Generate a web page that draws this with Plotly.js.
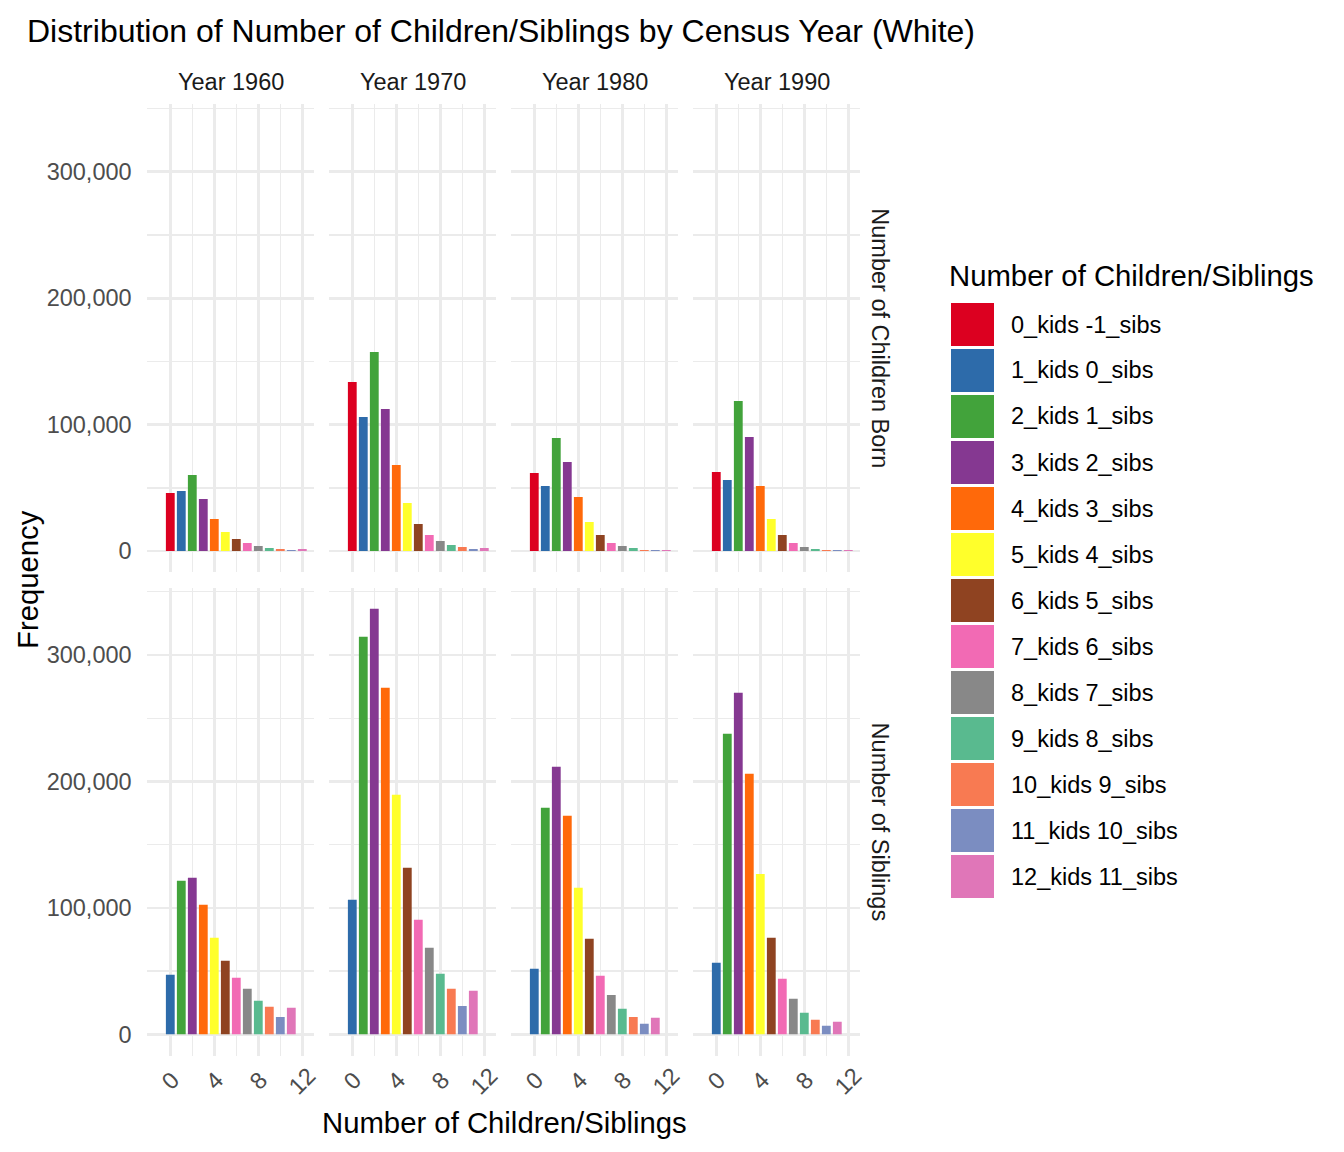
<!DOCTYPE html>
<html>
<head>
<meta charset="utf-8">
<script src="https://cdn.plot.ly/plotly-3.0.1.min.js"></script>
<style>html,body{margin:0;padding:0;background:#fff;}#chart{width:1344px;height:1152px;}</style>
</head>
<body>
<div id="chart"></div>
<script>
// ---------------- data ----------------
const years = ["Year 1960", "Year 1970", "Year 1980", "Year 1990"];
const rowLabels = ["Number of Children Born", "Number of Siblings"];
const categories = ["0_kids -1_sibs", "1_kids 0_sibs", "2_kids 1_sibs", "3_kids 2_sibs", "4_kids 3_sibs",
  "5_kids 4_sibs", "6_kids 5_sibs", "7_kids 6_sibs", "8_kids 7_sibs", "9_kids 8_sibs",
  "10_kids 9_sibs", "11_kids 10_sibs", "12_kids 11_sibs"];
const palette = ["#DC0020", "#2D6BAA", "#42A33B", "#853891", "#FF690A", "#FFFF2B", "#8F4321",
  "#F26AB4", "#888888", "#59BA8F", "#F87A52", "#7B8DC1", "#E076B8"];
const kidsX = [0, 1, 2, 3, 4, 5, 6, 7, 8, 9, 10, 11, 12];
const sibsX = [0, 1, 2, 3, 4, 5, 6, 7, 8, 9, 10, 11];
const xTickVals = [0, 4, 8, 12];
const yTickVals = [0, 100000, 200000, 300000];

const children1960 = [45900, 47500, 60100, 41100, 25300, 15000, 9500, 6300, 4000, 2400, 1600, 800, 1600];
const children1970 = [133700, 106000, 157400, 112300, 68000, 38000, 21400, 12700, 7900, 4700, 3200, 1600, 2400];
const children1980 = [61700, 51400, 89400, 70400, 42700, 22900, 12700, 6300, 4000, 2400, 800, 800, 800];
const children1990 = [62500, 56200, 118600, 90200, 51400, 25300, 12700, 6300, 3200, 1600, 800, 800, 800];
const siblings1960 = [47100, 121400, 123800, 102400, 76300, 58100, 44700, 36000, 26500, 21800, 13800, 21000];
const siblings1970 = [106400, 314400, 336500, 274100, 189400, 131700, 90600, 68400, 47900, 36000, 22500, 34400];
const siblings1980 = [51800, 179200, 211600, 172800, 115900, 75500, 46300, 31200, 20200, 13800, 8300, 13100];
const siblings1990 = [56600, 237700, 270100, 206000, 126900, 76300, 43900, 28100, 17000, 11500, 6700, 9900];

// ---------------- layout helpers ----------------
const W = 1344, H = 1152;
const FONT = "Liberation Sans, Arial, Helvetica, sans-serif";
const px = v => v / W;
const py = v => 1 - v / H;
const colLeft = [147.3, 329.3, 511.3, 693.3];
const colW = 167;
const rowTop = [104.3, 587.6];
const rowH = 468;
const GRID = "#EBEBEB";

const panels = [
  {row: 0, col: 0, x: kidsX, y: children1960, off: 0},
  {row: 0, col: 1, x: kidsX, y: children1970, off: 0},
  {row: 0, col: 2, x: kidsX, y: children1980, off: 0},
  {row: 0, col: 3, x: kidsX, y: children1990, off: 0},
  {row: 1, col: 0, x: sibsX, y: siblings1960, off: 1},
  {row: 1, col: 1, x: sibsX, y: siblings1970, off: 1},
  {row: 1, col: 2, x: sibsX, y: siblings1980, off: 1},
  {row: 1, col: 3, x: sibsX, y: siblings1990, off: 1}
];

const allVals = [].concat(...panels.map(p => p.y));
const yMax = Math.max(...allVals);
const yRange = [-0.05 * yMax, 1.05 * yMax];
const xRange = [-2.09, 13.09];

const traces = [];
const layout = {
  width: W, height: H,
  margin: {l: 0, r: 0, t: 0, b: 0, pad: 0},
  paper_bgcolor: "#fff", plot_bgcolor: "#fff",
  showlegend: false,
  font: {family: FONT, color: "#1A1A1A"},
  title: {
    text: "Distribution of Number of Children/Siblings by Census Year (White)",
    x: px(27), xanchor: "left", xref: "paper",
    y: py(31), yanchor: "middle", yref: "paper",
    font: {family: FONT, size: 32, color: "#000"}
  },
  annotations: [],
  shapes: []
};

panels.forEach((p, i) => {
  const n = i + 1;
  const xid = n === 1 ? "x" : "x" + n;
  const yid = n === 1 ? "y" : "y" + n;
  traces.push({
    type: "bar",
    x: p.x, y: p.y,
    xaxis: xid, yaxis: yid,
    width: 0.8,
    marker: {color: p.x.map(v => palette[v + p.off]), line: {width: 0}},
    hoverinfo: "skip",
    showlegend: false
  });
  const l = colLeft[p.col], t = rowTop[p.row];
  layout["xaxis" + (n === 1 ? "" : n)] = {
    domain: [px(l), px(l + colW)], anchor: yid,
    range: xRange, fixedrange: true,
    tickmode: "array", tickvals: xTickVals,
    showticklabels: false, ticks: "",
    showgrid: true, gridcolor: GRID, gridwidth: 2.7,
    minor: {tickmode: "array", tickvals: [-2, 2, 6, 10], showgrid: true, gridcolor: GRID, gridwidth: 1.4, ticks: ""},
    zeroline: false, showline: false
  };
  layout["yaxis" + (n === 1 ? "" : n)] = {
    domain: [py(t + rowH), py(t)], anchor: xid,
    range: yRange, fixedrange: true,
    tickmode: "array", tickvals: yTickVals, tickformat: ",d",
    showticklabels: p.col === 0,
    ticks: p.col === 0 ? "outside" : "", ticklen: 10, tickcolor: "rgba(0,0,0,0)",
    tickfont: {family: FONT, size: 23.5, color: "#4D4D4D"},
    showgrid: true, gridcolor: GRID, gridwidth: 2.7,
    minor: {tickmode: "array", tickvals: [50000, 150000, 250000, 350000], showgrid: true, gridcolor: GRID, gridwidth: 1.4, ticks: ""},
    zeroline: false, showline: false
  };
  // x tick labels for bottom row (rotated, centred on tick)
  if (p.row === 1) {
    xTickVals.forEach(v => {
      layout.annotations.push({
        xref: xid, yref: "paper", x: v, y: py(1081),
        text: String(v), showarrow: false, textangle: -45,
        xanchor: "center", yanchor: "middle",
        font: {family: FONT, size: 23.5, color: "#4D4D4D"}
      });
    });
  }
});

// strip labels (top)
years.forEach((yr, c) => {
  layout.annotations.push({
    xref: "paper", yref: "paper", x: px(colLeft[c] + colW / 2), y: py(82),
    text: yr, showarrow: false, xanchor: "center", yanchor: "middle",
    font: {family: FONT, size: 23.5, color: "#1A1A1A"}
  });
});
// strip labels (right)
rowLabels.forEach((lab, r) => {
  layout.annotations.push({
    xref: "paper", yref: "paper", x: px(880), y: py(rowTop[r] + rowH / 2),
    text: lab, showarrow: false, textangle: 90, xanchor: "center", yanchor: "middle",
    font: {family: FONT, size: 23.5, color: "#1A1A1A"}
  });
});
// axis titles
layout.annotations.push({
  xref: "paper", yref: "paper", x: px(504), y: py(1122),
  text: "Number of Children/Siblings", showarrow: false, xanchor: "center", yanchor: "middle",
  font: {family: FONT, size: 29.3, color: "#000"}
});
layout.annotations.push({
  xref: "paper", yref: "paper", x: px(27), y: py(580),
  text: "Frequency", showarrow: false, textangle: -90, xanchor: "center", yanchor: "middle",
  font: {family: FONT, size: 29.3, color: "#000"}
});
// legend
layout.annotations.push({
  xref: "paper", yref: "paper", x: px(947), y: py(275),
  text: "Number of Children/Siblings", showarrow: false, xanchor: "left", yanchor: "middle",
  font: {family: FONT, size: 29.3, color: "#000"}
});
categories.forEach((cat, i) => {
  const top = 303 + 46 * i;
  layout.shapes.push({
    type: "rect", xref: "paper", yref: "paper",
    x0: px(951), x1: px(994), y0: py(top + 43), y1: py(top),
    fillcolor: palette[i], line: {width: 0}
  });
  layout.annotations.push({
    xref: "paper", yref: "paper", x: px(1009), y: py(top + 21.5),
    text: cat, showarrow: false, xanchor: "left", yanchor: "middle",
    font: {family: FONT, size: 23.5, color: "#000"}
  });
});

Plotly.newPlot("chart", traces, layout, {staticPlot: true, displayModeBar: false});
</script>
</body>
</html>
